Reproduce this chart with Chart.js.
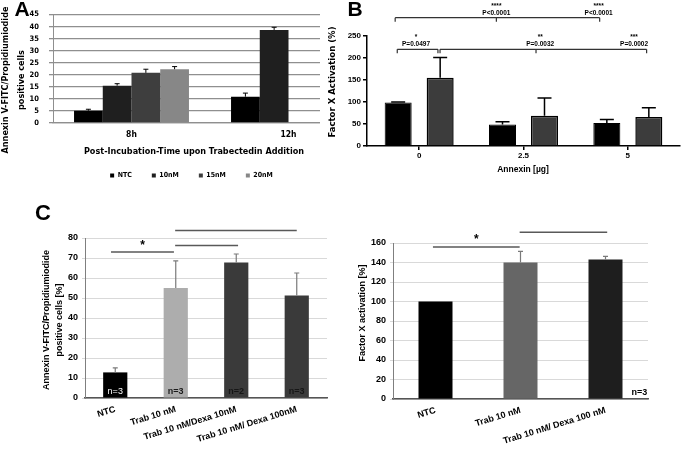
<!DOCTYPE html>
<html>
<head>
<meta charset="utf-8">
<script src="https://cdn.jsdelivr.net/npm/chart.js@4.4.1/dist/chart.umd.min.js"></script>
<style>
  body { margin: 0; width: 682px; height: 454px; overflow: hidden; background: #fff; position: relative; }
  .box { position: absolute; overflow: hidden; }
  canvas { display: block; }
</style>
</head>
<body>
<div class="box" style="left:0;top:0;width:320px;height:200px"><canvas id="chartA" width="386" height="200"></canvas></div>
<div class="box" style="left:320px;top:0;width:362px;height:200px"><canvas id="chartB" width="362" height="200"></canvas></div>
<div class="box" style="left:0;top:200px;width:340px;height:254px"><canvas id="chartC1" width="340" height="254"></canvas></div>
<div class="box" style="left:340px;top:200px;width:342px;height:254px"><canvas id="chartC2" width="342" height="254"></canvas></div>
<script>
// ---- panel A: apoptosis after trabectedin
const aCategories = ['8h', '12h'];
const aSeries = ['NTC', '10nM', '15nM', '20nM'];
const aNTC = [5.1, 10.9];
const aNTCErr = [0.6, 1.5];
const a10nM = [15.5, 38.6];
const a10nMErr = [0.8, 1.1];
const a15nM = [20.8, null];
const a15nMErr = [1.5, null];
const a20nM = [22.3, null];
const a20nMErr = [1.1, null];

// ---- panel B: factor X activation vs annexin
const bCategories = ['0', '2.5', '5'];
const bBlack = [99, 49, 52];
const bBlackErr = [1, 6, 8];
const bGray = [155, 69, 66];
const bGrayErr = [46, 40, 21];

// ---- panel C left
const c1Categories = ['NTC', 'Trab 10 nM', 'Trab 10 nM/Dexa 10nM', 'Trab 10 nM/ Dexa 100nM'];
const c1Values = [12.8, 55, 67.8, 51.3];
const c1Err = [2.3, 13.6, 4.2, 11.2];
const c1N = ['n=3', 'n=3', 'n=2', 'n=3'];

// ---- panel C right
const c2Categories = ['NTC', 'Trab 10 nM', 'Trab 10 nM/ Dexa 100 nM'];
const c2Values = [100, 140, 143];
const c2Err = [null, 11.5, 3.3];

const NARROW = '"DejaVu Sans Condensed", "Liberation Sans Narrow", sans-serif';
const ARIAL = '"Liberation Sans", Arial, sans-serif';

Chart.defaults.animation = false;
Chart.defaults.color = '#000';
Chart.defaults.font.family = ARIAL;
Chart.defaults.plugins.legend.display = false;
Chart.defaults.plugins.tooltip.enabled = false;

// upward error bars, read from dataset.errors
const errorBars = {
  id: 'errorBars',
  afterDatasetsDraw(chart) {
    const ctx = chart.ctx, y = chart.scales.y;
    chart.data.datasets.forEach((ds, di) => {
      if (!ds.errors) return;
      chart.getDatasetMeta(di).data.forEach((bar, i) => {
        const v = ds.data[i], e = ds.errors[i];
        if (v == null || e == null) return;
        const top = y.getPixelForValue(v + e);
        ctx.save();
        ctx.strokeStyle = ds.errColor;
        ctx.lineWidth = ds.errWidth;
        ctx.beginPath();
        ctx.moveTo(bar.x, bar.y);
        ctx.lineTo(bar.x, top);
        ctx.moveTo(bar.x - ds.capWidth / 2, top);
        ctx.lineTo(bar.x + ds.capWidth / 2, top);
        ctx.stroke();
        ctx.restore();
      });
    });
  }
};

// free text, brackets and significance lines
const notes = {
  id: 'notes',
  afterDraw(chart, args, opts) {
    const ctx = chart.ctx, xs = chart.scales.x, ys = chart.scales.y;
    const px = o => o.i !== undefined ? xs.getPixelForValue(o.i) : o.x;
    const py = o => o.v !== undefined ? ys.getPixelForValue(o.v) : o.y;
    ctx.save();
    (opts.items || []).forEach(it => {
      ctx.strokeStyle = ctx.fillStyle = it.color || '#000';
      if (it.text !== undefined) {
        const lines = [].concat(it.text);
        ctx.font = it.font;
        ctx.textAlign = it.align || 'center';
        ctx.textBaseline = 'middle';
        ctx.save();
        ctx.translate(px(it), py(it));
        if (it.rot) ctx.rotate(it.rot * Math.PI / 180);
        lines.forEach((l, k) => ctx.fillText(l, 0, (k - (lines.length - 1) / 2) * (it.lh || 12)));
        ctx.restore();
      } else {
        const y = ys.getPixelForValue(it.v);
        ctx.lineWidth = it.w || 1;
        ctx.beginPath();
        ctx.moveTo(xs.getPixelForValue(it.from), y);
        ctx.lineTo(xs.getPixelForValue(it.to), y);
        if (it.drop) {
          [it.from, it.to].concat(it.mids || []).forEach(i => {
            const x = xs.getPixelForValue(i);
            ctx.moveTo(x, y);
            ctx.lineTo(x, y + it.drop);
          });
        }
        ctx.stroke();
      }
    });
    ctx.restore();
  }
};

const fontA = s => ({family: NARROW, size: s, weight: 'bold'});
const fontB = s => ({family: ARIAL, size: s, weight: 'bold'});

// ---------------- A
new Chart(document.getElementById('chartA'), {
  type: 'bar',
  plugins: [errorBars, notes],
  data: {
    labels: aCategories,
    datasets: [
      {label: aSeries[0], data: aNTC, errors: aNTCErr, backgroundColor: '#000000'},
      {label: aSeries[1], data: a10nM, errors: a10nMErr, backgroundColor: '#1f1f1f'},
      {label: aSeries[2], data: a15nM, errors: a15nMErr, backgroundColor: '#3e3e3e'},
      {label: aSeries[3], data: a20nM, errors: a20nMErr, backgroundColor: '#878787'}
    ].map(d => Object.assign(d, {errColor: '#000', errWidth: 1, capWidth: 5, borderWidth: 0}))
  },
  options: {
    responsive: false,
    devicePixelRatio: 1,
    categoryPercentage: 0.732,
    barPercentage: 1,
    layout: {padding: {left: 16, top: 10, right: 19, bottom: 18}},
    scales: {
      x: {
        grid: {drawOnChartArea: false, drawTicks: false},
        border: {color: '#8f8f8f', width: 1.3},
        ticks: {font: fontA(8.5), padding: 7},
        afterFit: s => { s.height = 29; }
      },
      y: {
        min: 0, max: 45,
        grid: {color: '#8f8f8f', lineWidth: 1.3, tickLength: 4},
        border: {color: '#8f8f8f', width: 1},
        ticks: {stepSize: 5, autoSkip: false, font: fontA(7.5), padding: 10},
        afterFit: s => { s.width = 37; }
      }
    },
    plugins: {
      legend: {
        display: true,
        position: 'bottom',
        maxHeight: 30,
        labels: {boxWidth: 4, boxHeight: 4, padding: 20, font: fontA(7), color: '#000'}
      },
      notes: {items: [
        {text: 'A', x: 22, y: 10, font: 'bold 21px ' + ARIAL},
        {text: ['Annexin V-FITC/Propidiumiodide', 'positive cells'], x: 13.5, y: 80, rot: -90, lh: 16, font: 'bold 9px ' + NARROW},
        {text: 'Post-Incubation-Time upon Trabectedin Addition', x: 194, y: 152, font: 'bold 9px ' + NARROW}
      ]}
    }
  }
});

// ---------------- B
new Chart(document.getElementById('chartB'), {
  type: 'bar',
  plugins: [errorBars, notes],
  data: {
    labels: bCategories,
    datasets: [
      {data: bBlack, errors: bBlackErr, backgroundColor: '#000', borderColor: '#000', borderWidth: 1},
      {data: bGray, errors: bGrayErr, backgroundColor: '#3c3c3c', borderColor: '#000', borderWidth: 1.5}
    ].map(d => Object.assign(d, {errColor: '#000', errWidth: 1.5, capWidth: 14}))
  },
  options: {
    responsive: false,
    devicePixelRatio: 1,
    categoryPercentage: 0.805,
    barPercentage: 0.643,
    layout: {padding: {left: 0, top: 36, right: 2, bottom: 0}},
    scales: {
      x: {
        grid: {drawOnChartArea: false, offset: false, color: '#000', lineWidth: 1.5, tickLength: 4},
        border: {color: '#000', width: 1.5},
        ticks: {font: fontB(8), padding: 1},
        afterFit: s => { s.height = 54; }
      },
      y: {
        min: 0, max: 250,
        grid: {drawOnChartArea: false, color: '#000', lineWidth: 1.5, tickLength: 4},
        border: {color: '#000', width: 1.5},
        ticks: {stepSize: 50, font: fontB(8), padding: 2},
        afterFit: s => { s.width = 47; }
      }
    },
    plugins: {
      notes: {items: [
        {text: 'B', x: 35, y: 10, font: 'bold 21px ' + ARIAL},
        {text: 'Factor X Activation (%)', x: 13, y: 82, rot: -90, font: 'bold 9.5px ' + NARROW},
        {text: 'Annexin [\u00b5g]', x: 203, y: 170, font: 'bold 8.5px ' + ARIAL},
        {from: -0.23, to: 1.73, mids: [0.74], v: 291.6, drop: 4, w: 1.2, color: '#333'},
        {from: -0.21, to: 0.18, v: 219.8, drop: 4, w: 1.2, color: '#333'},
        {from: 0.20, to: 2.18, mids: [1.12], v: 219.8, drop: 4, w: 1.2, color: '#333'},
        {text: '****', i: 0.74, v: 318, font: 'bold 6.5px ' + ARIAL},
        {text: 'P<0.0001', i: 0.74, v: 301.6, font: 'bold 6.5px ' + ARIAL},
        {text: '****', i: 1.72, v: 318, font: 'bold 6.5px ' + ARIAL},
        {text: 'P<0.0001', i: 1.72, v: 301.6, font: 'bold 6.5px ' + ARIAL},
        {text: '*', i: -0.03, v: 248, font: 'bold 6.5px ' + ARIAL},
        {text: 'P=0.0497', i: -0.03, v: 231, font: 'bold 6.5px ' + ARIAL},
        {text: '**', i: 1.16, v: 248, font: 'bold 6.5px ' + ARIAL},
        {text: 'P=0.0032', i: 1.16, v: 231, font: 'bold 6.5px ' + ARIAL},
        {text: '***', i: 2.06, v: 248, font: 'bold 6.5px ' + ARIAL},
        {text: 'P=0.0002', i: 2.06, v: 231, font: 'bold 6.5px ' + ARIAL}
      ]}
    }
  }
});

// ---------------- C left
new Chart(document.getElementById('chartC1'), {
  type: 'bar',
  plugins: [errorBars, notes],
  data: {
    labels: c1Categories,
    datasets: [{
      data: c1Values, errors: c1Err,
      backgroundColor: ['#000000', '#adadad', '#3a3a3a', '#3a3a3a'],
      errColor: '#7a7a7a', errWidth: 1.2, capWidth: 5
    }]
  },
  options: {
    responsive: false,
    devicePixelRatio: 1,
    categoryPercentage: 0.5,
    barPercentage: 0.8,
    layout: {padding: {left: 0, top: 38, right: 13, bottom: 0}},
    scales: {
      x: {
        grid: {drawOnChartArea: false, drawTicks: false},
        border: {color: '#555', width: 1.5},
        ticks: {font: fontB(9), padding: 6, minRotation: 17, maxRotation: 17, autoSkip: false},
        afterFit: s => { s.height = 56; }
      },
      y: {
        min: 0, max: 80,
        grid: {color: '#d9d9d9', lineWidth: 1, tickLength: 3},
        border: {color: '#7f7f7f', width: 1},
        ticks: {stepSize: 10, font: fontB(9), padding: 4},
        afterFit: s => { s.width = 85; }
      }
    },
    plugins: {
      notes: {items: [
        {text: 'C', x: 43, y: 14, font: 'bold 22px ' + ARIAL},
        {text: ['Annexin V-FITC/Propidiumiodide', 'positive cells [%]'], x: 53.5, y: 120, rot: -90, lh: 13, font: 'bold 9px ' + ARIAL},
        {from: -0.07, to: 0.97, v: 73, w: 1.5, color: '#595959'},
        {from: 0.99, to: 2.03, v: 76.2, w: 1.5, color: '#595959'},
        {from: 0.99, to: 3.0, v: 83.7, w: 1.5, color: '#595959'},
        {text: '*', i: 0.45, v: 76, font: 'bold 12px ' + ARIAL},
        {text: c1N[0], i: 0, v: 3.3, font: '9px ' + ARIAL, color: '#fff'},
        {text: c1N[1], i: 1, v: 3.3, font: 'bold 9px ' + ARIAL, color: '#1a1a1a'},
        {text: c1N[2], i: 2, v: 3.3, font: 'bold 9px ' + ARIAL, color: '#161616'},
        {text: c1N[3], i: 3, v: 3.3, font: 'bold 9px ' + ARIAL, color: '#161616'}
      ]}
    }
  }
});

// ---------------- C right
new Chart(document.getElementById('chartC2'), {
  type: 'bar',
  plugins: [errorBars, notes],
  data: {
    labels: c2Categories,
    datasets: [{
      data: c2Values, errors: c2Err,
      backgroundColor: ['#000000', '#666666', '#1e1e1e'],
      errColor: '#7a7a7a', errWidth: 1.2, capWidth: 5
    }]
  },
  options: {
    responsive: false,
    devicePixelRatio: 1,
    categoryPercentage: 0.5,
    barPercentage: 0.8,
    layout: {padding: {left: 0, top: 43, right: 34, bottom: 0}},
    scales: {
      x: {
        grid: {drawOnChartArea: false, drawTicks: false},
        border: {color: '#555', width: 1.5},
        ticks: {font: fontB(9), padding: 6, minRotation: 17, maxRotation: 17, autoSkip: false},
        afterFit: s => { s.height = 55; }
      },
      y: {
        min: 0, max: 160,
        grid: {color: '#d9d9d9', lineWidth: 1, tickLength: 3},
        border: {color: '#7f7f7f', width: 1},
        ticks: {stepSize: 20, font: fontB(9), padding: 4},
        afterFit: s => { s.width = 53; }
      }
    },
    plugins: {
      notes: {items: [
        {text: 'Factor X activation [%]', x: 23, y: 113, rot: -90, font: 'bold 9px ' + ARIAL},
        {from: -0.03, to: 0.99, v: 156, w: 1.5, color: '#595959'},
        {from: 0.99, to: 2.02, v: 171, w: 1.5, color: '#595959'},
        {text: '*', i: 0.48, v: 163, font: 'bold 12px ' + ARIAL},
        {text: 'n=3', i: 2.4, v: 6.4, font: 'bold 9px ' + ARIAL}
      ]}
    }
  }
});
</script>
</body>
</html>
